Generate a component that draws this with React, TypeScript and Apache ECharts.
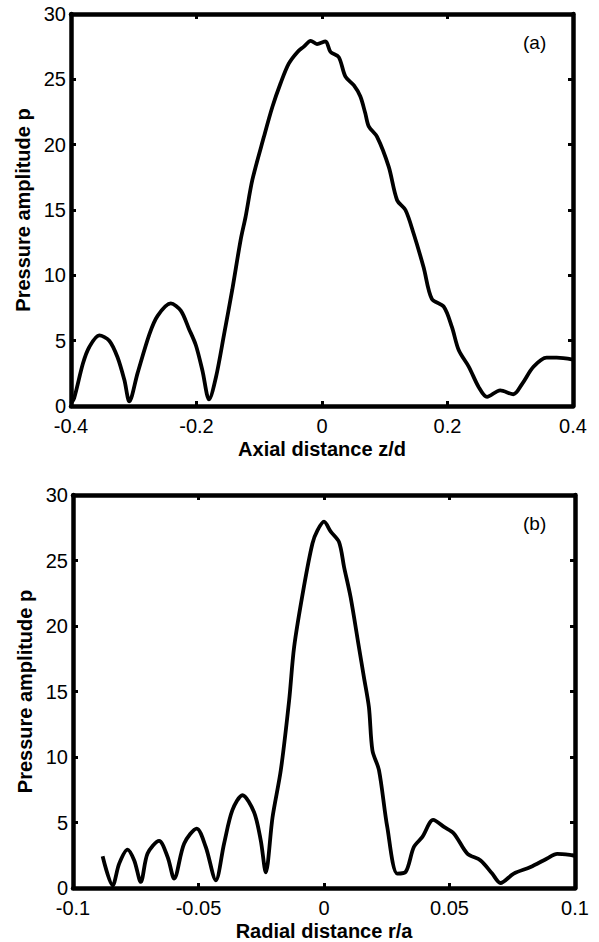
import React, { useEffect, useRef } from "react";
import * as echarts from "echarts";

// Panel (a): axial distance z/d vs pressure amplitude p
const axialZ = [
  -0.4, -0.395, -0.381, -0.371, -0.355, -0.339, -0.326, -0.315, -0.307, -0.294,
  -0.275, -0.262, -0.241, -0.225, -0.212, -0.201, -0.1905, -0.18, -0.169, -0.156,
  -0.143, -0.1297, -0.1217, -0.111, -0.0926, -0.079, -0.066, -0.053, -0.039, -0.029,
  -0.018, -0.008, 0.0056, 0.0135, 0.0267, 0.0374, 0.0506, 0.061, 0.069, 0.0745,
  0.0878, 0.1064, 0.1197, 0.133, 0.146, 0.162, 0.175, 0.194, 0.207, 0.218,
  0.234, 0.2496, 0.263, 0.284, 0.305, 0.319, 0.337, 0.358, 0.374, 0.4,
];
const axialP = [
  0.2, 0.6, 3.25, 4.5, 5.4, 5.0, 3.75, 2.0, 0.35, 2.5,
  5.5, 6.9, 7.85, 7.3, 5.9, 4.65, 2.7, 0.5, 2.2, 5.5,
  8.9, 12.7, 14.5, 17.3, 20.6, 22.9, 24.7, 26.2, 27.1, 27.5,
  27.95, 27.7, 27.9, 27.1, 26.7, 25.2, 24.55, 23.7, 22.4, 21.4,
  20.6, 18.3, 15.75, 15.0, 13.2, 10.6, 8.2, 7.6, 6.05, 4.26,
  3.0, 1.46, 0.7, 1.2, 0.9, 1.7, 3.0, 3.7, 3.7, 3.55,
];

// Panel (b): radial distance r/a vs pressure amplitude p
const radialR = [
  -0.0882, -0.0842, -0.0816, -0.0783, -0.0756, -0.073, -0.0703, -0.0657, -0.0623, -0.0597,
  -0.0557, -0.0507, -0.0471, -0.0431, -0.0398, -0.0365, -0.0325, -0.0279, -0.0252, -0.0232,
  -0.0205, -0.0172, -0.0139, -0.0119, -0.008, -0.0046, -0.0026, 0, 0.0027, 0.006,
  0.008, 0.0106, 0.0139, 0.0159, 0.0179, 0.0193, 0.0219, 0.0252, 0.0292, 0.0325,
  0.0358, 0.0392, 0.0435, 0.0478, 0.0518, 0.0571, 0.0624, 0.067, 0.0703, 0.0756,
  0.0823, 0.0889, 0.0929, 0.0989, 0.1,
];
const radialP = [
  2.42, 0.2, 1.86, 2.93, 2.1, 0.46, 2.63, 3.6, 2.37, 0.72,
  3.4, 4.54, 3.13, 0.59, 3.4, 5.94, 7.08, 5.8, 3.64, 1.2,
  5.4, 9.0, 14.3, 18.4, 23.0, 26.3, 27.3, 27.96, 27.2, 26.4,
  24.5, 22.2, 18.4, 16.1, 13.8, 10.5, 9.0, 4.66, 1.1, 1.22,
  3.13, 3.9, 5.2, 4.66, 4.15, 2.63, 2.1, 1.1, 0.38, 1.1,
  1.6, 2.25, 2.6, 2.5, 2.45,
];

const panelLabels = ["(a)", "(b)"];
const xTitles = ["Axial distance z/d", "Radial distance r/a"];
const yTitle = "Pressure amplitude p";

const FONT = "'Liberation Sans', Arial, Helvetica, sans-serif";

export default function App() {
  const ref = useRef<HTMLDivElement>(null);

  useEffect(() => {
    if (!ref.current) return;
    const chart = echarts.init(ref.current, null, { renderer: "svg" });

    const axisLine = { show: true, onZero: false, lineStyle: { color: "#000", width: 4.5 } };
    const tick = { show: true, inside: true, length: 5, lineStyle: { color: "#000", width: 3 } };
    const label = { color: "#000", fontSize: 20, fontFamily: FONT };
    const nameStyle = { color: "#000", fontSize: 20, fontWeight: "bold" as const, fontFamily: FONT };

    const mkX = (grid: number, min: number, max: number, interval: number, name: string) => [
      {
        type: "value", gridIndex: grid, position: "bottom", min, max, interval,
        axisLine, axisTick: tick, splitLine: { show: false },
        axisLabel: { ...label, margin: 10 },
        name, nameLocation: "middle", nameGap: 33, nameTextStyle: nameStyle,
      },
      {
        type: "value", gridIndex: grid, position: "top", min, max, interval,
        axisLine, axisTick: tick, splitLine: { show: false }, axisLabel: { show: false },
      },
    ];
    const mkY = (grid: number) => [
      {
        type: "value", gridIndex: grid, position: "left", min: 0, max: 30, interval: 5,
        axisLine, axisTick: tick, splitLine: { show: false },
        axisLabel: { ...label, margin: 5 },
        name: yTitle, nameLocation: "middle", nameGap: 37, nameRotate: 90, nameTextStyle: nameStyle,
      },
      {
        type: "value", gridIndex: grid, position: "right", min: 0, max: 30, interval: 5,
        axisLine, axisTick: tick, splitLine: { show: false }, axisLabel: { show: false },
      },
    ];

    const lineSeries = (xi: number, yi: number, xs: number[], ys: number[]) => ({
      type: "line",
      xAxisIndex: xi,
      yAxisIndex: yi,
      data: xs.map((x, i) => [x, ys[i]]),
      showSymbol: false,
      smooth: 0.3,
      lineStyle: { color: "#000", width: 3.8 },
      silent: true,
    });

    chart.setOption({
      animation: false,
      backgroundColor: "#fff",
      grid: [
        { left: 71, top: 14, width: 502, height: 392 },
        { left: 73, top: 495, width: 502, height: 393 },
      ],
      xAxis: [
        ...mkX(0, -0.4, 0.4, 0.2, xTitles[0]),
        ...mkX(1, -0.1, 0.1, 0.05, xTitles[1]),
      ],
      yAxis: [...mkY(0), ...mkY(1)],
      series: [
        lineSeries(0, 0, axialZ, axialP),
        lineSeries(2, 2, radialR, radialP),
      ],
      graphic: [
        { type: "text", left: 523, top: 33, style: { text: panelLabels[0], fill: "#000", font: `19px ${FONT}` } },
        { type: "text", left: 523, top: 514, style: { text: panelLabels[1], fill: "#000", font: `19px ${FONT}` } },
      ],
    });

    return () => chart.dispose();
  }, []);

  return (
    <div
      ref={ref}
      style={{ position: "absolute", left: 0, top: 0, width: 599, height: 942, background: "#fff" }}
    />
  );
}
